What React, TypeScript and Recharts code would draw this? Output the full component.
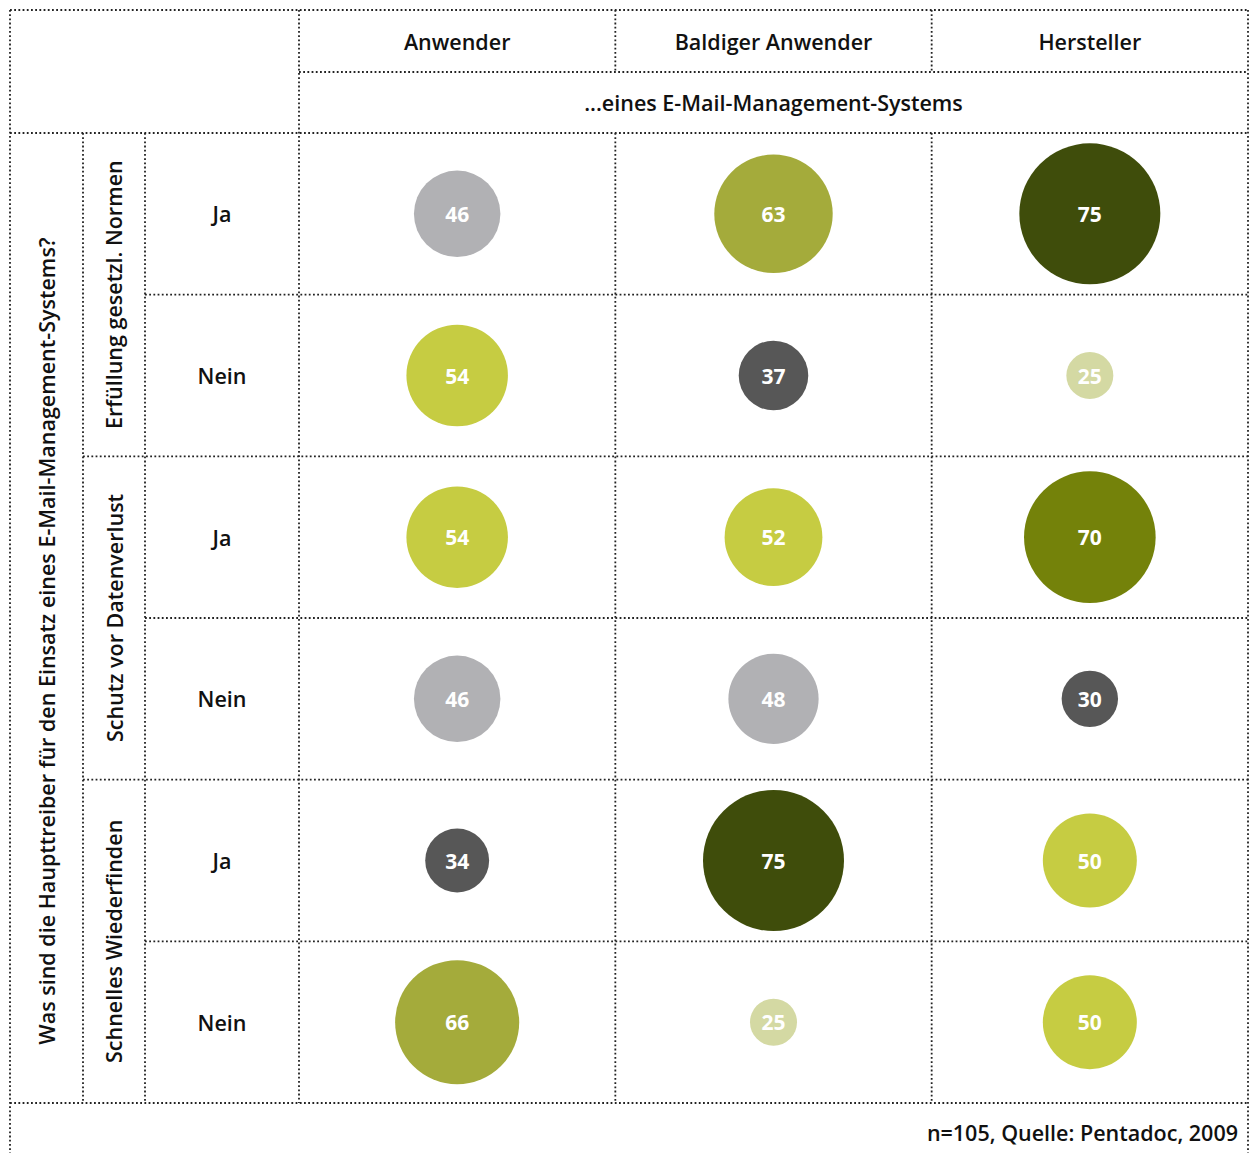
import { ScatterChart, Scatter, XAxis, YAxis, Customized } from "recharts";

const COLUMNS = ["Anwender", "Baldiger Anwender", "Hersteller"];
const GROUPS = ["Erfüllung gesetzl. Normen", "Schutz vor Datenverlust", "Schnelles Wiederfinden"];
const ANSWERS = ["Ja", "Nein"];
const ANWENDER = [46, 54, 54, 46, 34, 66];
const BALDIGER = [63, 37, 52, 48, 75, 25];
const HERSTELLER = [75, 25, 70, 30, 50, 50];
const SUBTITLE = "...eines E-Mail-Management-Systems";
const TITLE = "Was sind die Haupttreiber für den Einsatz eines E-Mail-Management-Systems?";
const SOURCE = "n=105, Quelle: Pentadoc, 2009";

const ROWS = GROUPS.flatMap((g) => ANSWERS.map((a) => `${g}|${a}`));
const SERIES = [ANWENDER, BALDIGER, HERSTELLER];

const W = 1250;
const H = 1153;
// table layout
const L = 10;
const R = 1248;
const TOP = 10;
const SUB_Y = 72;
const PLOT_TOP = 133;
const PLOT_BOTTOM = 1103;
const COL_TITLE_X = 83;
const COL_GROUP_X = 145;
const PLOT_LEFT = 299;
const ROW_H = (PLOT_BOTTOM - PLOT_TOP) / ROWS.length;
const COL_W = (R - PLOT_LEFT) / COLUMNS.length;

const FONT = "'Open Sans', sans-serif";
const DOT = { stroke: "#222", strokeWidth: 1.8, strokeDasharray: "1.8 2.4", fill: "none" };

function bubbleColor(v: number) {
  if (v >= 75) return "#3f4d0b";
  if (v >= 70) return "#74820a";
  if (v >= 60) return "#a4ab3b";
  if (v >= 50) return "#c6cc42";
  if (v >= 45) return "#b1b1b4";
  if (v >= 30) return "#575757";
  return "#d4d9a3";
}

function Bubble(props: any) {
  const { cx, cy, payload } = props;
  if (cx == null || cy == null) return null;
  const v = payload.value;
  return (
    <g>
      <circle cx={cx} cy={cy} r={v * 0.94} fill={bubbleColor(v)} />
      <text
        x={cx}
        y={cy}
        textAnchor="middle"
        dominantBaseline="central"
        fill="#fff"
        fontFamily={FONT}
        fontWeight={700}
        fontSize={21}
      >
        {v}
      </text>
    </g>
  );
}

function ColumnTick(props: any) {
  const { x, payload } = props;
  return (
    <text
      x={x}
      y={(TOP + SUB_Y) / 2}
      textAnchor="middle"
      dominantBaseline="central"
      fill="#111"
      fontFamily={FONT}
      fontWeight={600}
      fontSize={21.5}
    >
      {payload.value}
    </text>
  );
}

function RowTick(props: any) {
  const { y, payload } = props;
  const answer = String(payload.value).split("|")[1];
  return (
    <text
      x={(COL_GROUP_X + PLOT_LEFT) / 2}
      y={y}
      textAnchor="middle"
      dominantBaseline="central"
      fill="#111"
      fontFamily={FONT}
      fontWeight={600}
      fontSize={21.5}
    >
      {answer}
    </text>
  );
}

function TableFrame() {
  const lines: JSX.Element[] = [];
  const h = (y: number, x1: number, x2: number, k: string) =>
    lines.push(<line key={k} x1={x1} x2={x2} y1={y} y2={y} {...DOT} />);
  const v = (x: number, y1: number, y2: number, k: string) =>
    lines.push(<line key={k} x1={x} x2={x} y1={y1} y2={y2} {...DOT} />);

  h(TOP, L, R, "top");
  h(SUB_Y, PLOT_LEFT, R, "sub");
  h(PLOT_TOP, L, R, "ptop");
  h(PLOT_BOTTOM, L, R, "pbot");
  ROWS.forEach((_, i) => {
    if (i === 0) return;
    const y = PLOT_TOP + i * ROW_H;
    h(y, i % 2 === 0 ? COL_TITLE_X : COL_GROUP_X, R, `r${i}`);
  });
  v(L, TOP, H, "left");
  v(R, TOP, H, "right");
  v(COL_TITLE_X, PLOT_TOP, PLOT_BOTTOM, "ct");
  v(COL_GROUP_X, PLOT_TOP, PLOT_BOTTOM, "cg");
  v(PLOT_LEFT, TOP, PLOT_BOTTOM, "pl");
  COLUMNS.forEach((_, i) => {
    if (i === 0) return;
    const x = PLOT_LEFT + i * COL_W;
    v(x, TOP, SUB_Y, `c${i}a`);
    v(x, PLOT_TOP, PLOT_BOTTOM, `c${i}b`);
  });

  const gx = (COL_TITLE_X + COL_GROUP_X) / 2;
  const tx = (L + COL_TITLE_X) / 2;
  const ty = 641;

  return (
    <g>
      {lines}
      <text
        x={(PLOT_LEFT + R) / 2}
        y={(SUB_Y + PLOT_TOP) / 2}
        textAnchor="middle"
        dominantBaseline="central"
        fill="#111"
        fontFamily={FONT}
        fontWeight={600}
        fontSize={21.5}
      >
        {SUBTITLE}
      </text>
      {GROUPS.map((g, i) => {
        const gy = PLOT_TOP + (i * 2 + 1) * ROW_H;
        return (
          <text
            key={g}
            x={gx}
            y={gy}
            transform={`rotate(-90 ${gx} ${gy})`}
            textAnchor="middle"
            dominantBaseline="central"
            fill="#111"
            fontFamily={FONT}
            fontWeight={600}
            fontSize={21.5}
          >
            {g}
          </text>
        );
      })}
      <text
        x={tx}
        y={ty}
        transform={`rotate(-90 ${tx} ${ty})`}
        textAnchor="middle"
        dominantBaseline="central"
        fill="#111"
        fontFamily={FONT}
        fontWeight={600}
        fontSize={21.5}
      >
        {TITLE}
      </text>
      <text
        x={R - 10}
        y={(PLOT_BOTTOM + H) / 2 + 4}
        textAnchor="end"
        dominantBaseline="central"
        fill="#111"
        fontFamily={FONT}
        fontWeight={600}
        fontSize={21.5}
      >
        {SOURCE}
      </text>
    </g>
  );
}

export default function App() {
  return (
    <div style={{ position: "absolute", left: 0, top: 0, width: W, height: H, background: "#fff" }}>
      <ScatterChart
        width={W}
        height={H}
        margin={{ top: TOP, right: W - R, bottom: H - PLOT_BOTTOM, left: COL_GROUP_X }}
      >
        <Customized component={<TableFrame />} />
        <XAxis
          type="category"
          dataKey="col"
          orientation="top"
          height={PLOT_TOP - TOP}
          allowDuplicatedCategory={false}
          axisLine={false}
          tickLine={false}
          interval={0}
          tick={<ColumnTick />}
        />
        <YAxis
          type="category"
          dataKey="row"
          width={PLOT_LEFT - COL_GROUP_X}
          allowDuplicatedCategory={false}
          reversed
          axisLine={false}
          tickLine={false}
          interval={0}
          tick={<RowTick />}
        />
        {SERIES.map((values, ci) => (
          <Scatter
            key={COLUMNS[ci]}
            name={COLUMNS[ci]}
            data={values.map((value, ri) => ({ col: COLUMNS[ci], row: ROWS[ri], value }))}
            shape={<Bubble />}
            isAnimationActive={false}
          />
        ))}
      </ScatterChart>
    </div>
  );
}
